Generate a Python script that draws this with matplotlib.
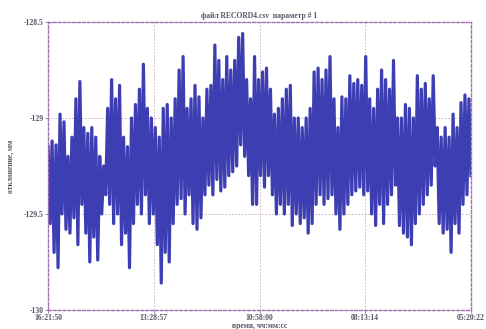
import numpy as np
import matplotlib.pyplot as plt

# верхние и нижние точки колебаний, по порядку слева направо
upper = [-129.15, -129.12, -129.14, -128.98, -129.02, -129.20, -129.10, -128.90, -128.81, -129.05,
         -129.08, -129.05, -129.10, -129.20, -129.25, -128.95, -128.80, -128.90, -128.83, -129.10,
         -129.15, -129.00, -128.93, -128.85, -128.72, -128.95, -129.00, -129.05, -129.10, -128.95,
         -128.93, -129.00, -128.90, -128.75, -128.68, -128.95, -128.90, -128.83, -128.89, -129.00,
         -128.85, -128.83, -128.62, -128.70, -128.80, -128.68, -128.75, -128.70, -128.58, -128.56,
         -128.80, -128.90, -128.68, -128.80, -128.76, -128.74, -128.85, -128.98, -128.95, -128.90,
         -128.85, -128.83, -129.00, -129.00, -129.05, -129.00, -128.95, -128.76, -128.74, -128.80,
         -128.75, -128.68, -128.90, -129.05, -128.89, -128.90, -128.78, -128.82, -128.80, -128.83,
         -128.68, -128.90, -128.95, -128.85, -128.75, -128.80, -128.85, -128.70, -129.00, -129.00,
         -128.93, -128.95, -129.00, -128.78, -128.85, -128.82, -128.90, -128.78, -129.05, -129.10,
         -129.05, -129.10, -128.98, -129.05, -128.92, -128.88, -128.90]
lower = [-129.55, -129.70, -129.78, -129.50, -129.58, -129.60, -129.52, -129.66, -129.45, -129.60,
         -129.75, -129.62, -129.74, -129.50, -129.40, -129.45, -129.55, -129.50, -129.66, -129.60,
         -129.78, -129.55, -129.45, -129.50, -129.40, -129.55, -129.50, -129.66, -129.86, -129.70,
         -129.75, -129.55, -129.45, -129.42, -129.50, -129.40, -129.55, -129.58, -129.52, -129.40,
         -129.35, -129.40, -129.32, -129.38, -129.36, -129.30, -129.28, -129.25, -129.14, -129.20,
         -129.30, -129.45, -129.45, -129.30, -129.36, -129.30, -129.40, -129.50, -129.45, -129.50,
         -129.45, -129.56, -129.50, -129.55, -129.52, -129.60, -129.55, -129.45, -129.40, -129.45,
         -129.42, -129.40, -129.50, -129.58, -129.50, -129.45, -129.40, -129.38, -129.36, -129.40,
         -129.38, -129.50, -129.56, -129.45, -129.55, -129.45, -129.40, -129.35, -129.56, -129.60,
         -129.62, -129.66, -129.55, -129.50, -129.45, -129.40, -129.35, -129.25, -129.55, -129.60,
         -129.58, -129.70, -129.55, -129.60, -129.45, -129.40, -129.30]

time_labels = ['16:21:50', '13:28:57', '10:58:00', '08:13:14', '05:20:22']
y_ticks = [-128.5, -129, -129.5, -130]
y_labels = ['-128.5', '-129', '-129.5', '-130']

values = []
for hi, lo in zip(upper, lower):
    values.append(hi)
    values.append(lo)
x = np.arange(len(values))

fig = plt.figure(figsize=(4.86, 3.29), dpi=100)
ax = fig.add_axes([0.099, 0.058, 0.870, 0.875])

ax.plot(x, values, color='#3c3eb2', linewidth=2.3)

ax.set_xlim(0, len(values) - 1)
ax.set_ylim(-130, -128.5)
ax.set_xticks(np.linspace(0, len(values) - 1, len(time_labels)))
ax.set_xticklabels(time_labels)
ax.set_yticks(y_ticks)
ax.set_yticklabels(y_labels)

fnt = dict(family='Liberation Serif', weight='bold', size=5.5, color='#555566')
for lab in ax.get_xticklabels() + ax.get_yticklabels():
    lab.set_fontfamily('Liberation Serif')
    lab.set_fontweight('bold')
    lab.set_fontsize(5.5)
    lab.set_color('#555566')
ax.tick_params(length=2, width=0.6, color='#9a6a9a', pad=1)

ax.grid(True, linestyle=(0, (2, 2)), color='#c8a8c0', linewidth=0.6)
for sp in ax.spines.values():
    sp.set_linestyle((0, (2, 1.5)))
    sp.set_color('#a070b0')
    sp.set_linewidth(1.0)

ax.set_title('файл RECORD4.csv  параметр # 1', fontdict=fnt, pad=3)
ax.set_xlabel('время, чч:мм:сс', fontdict=fnt, labelpad=0)
ax.set_ylabel('отклонение, мм', fontdict=fnt, labelpad=7)

fig.savefig('out.png', dpi=100)
